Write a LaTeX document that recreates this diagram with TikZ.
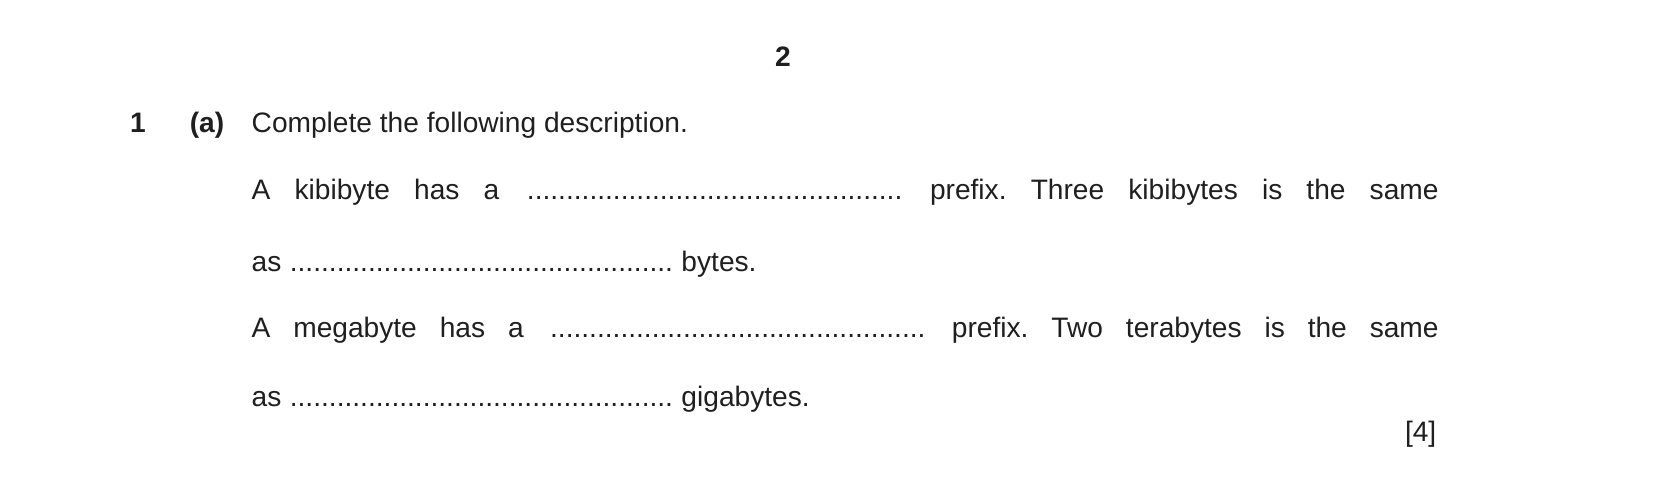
\documentclass[tikz,border=0pt]{standalone}
\usepackage{fontspec}
\setmainfont{Liberation Sans}
\newcommand{\dotrun}[1]{\makebox[#1]{\cleaders\hbox{.}\hfill}}
\tikzset{txt/.style={anchor=base west, inner sep=0pt, text=black!88, font=\fontsize{8}{10}\selectfont},
  num/.style={anchor=base, inner sep=0pt, text=black!88, font=\fontsize{8}{10}\selectfont\bfseries}}
\begin{document}
\begin{tikzpicture}[x=0.01cm,y=-0.01cm]
  \fill[white] (0,0) rectangle (1654,489);
  \useasboundingbox (0,0) rectangle (1654,489);
  % header
  \node[num] (page) at (783,67) {2};
  \node[num] (qno) at (138,133) {1};
  \node[num] (part) at (207,133) {(a)};
  \node[txt] (intro) at (251,133) {Complete the following description.};
  % answer lines
  \node[txt] (lineA) at (251,200) {\hbox to 11.86cm{A\hfill kibibyte\hfill has\hfill a\hfill\dotrun{3.82cm}\hfill prefix.\hfill Three\hfill kibibytes\hfill is\hfill the\hfill same}};
  \node[txt] (lineB) at (251,272) {as \dotrun{3.84cm} bytes.};
  \node[txt] (lineC) at (251,338) {\hbox to 11.86cm{A\hfill megabyte\hfill has\hfill a\hfill\dotrun{3.82cm}\hfill prefix.\hfill Two\hfill terabytes\hfill is\hfill the\hfill same}};
  \node[txt] (lineD) at (251,407) {as \dotrun{3.84cm} gigabytes.};
  \node[txt, anchor=base east] (mark) at (1437,442) {[4]};
\end{tikzpicture}
\end{document}
